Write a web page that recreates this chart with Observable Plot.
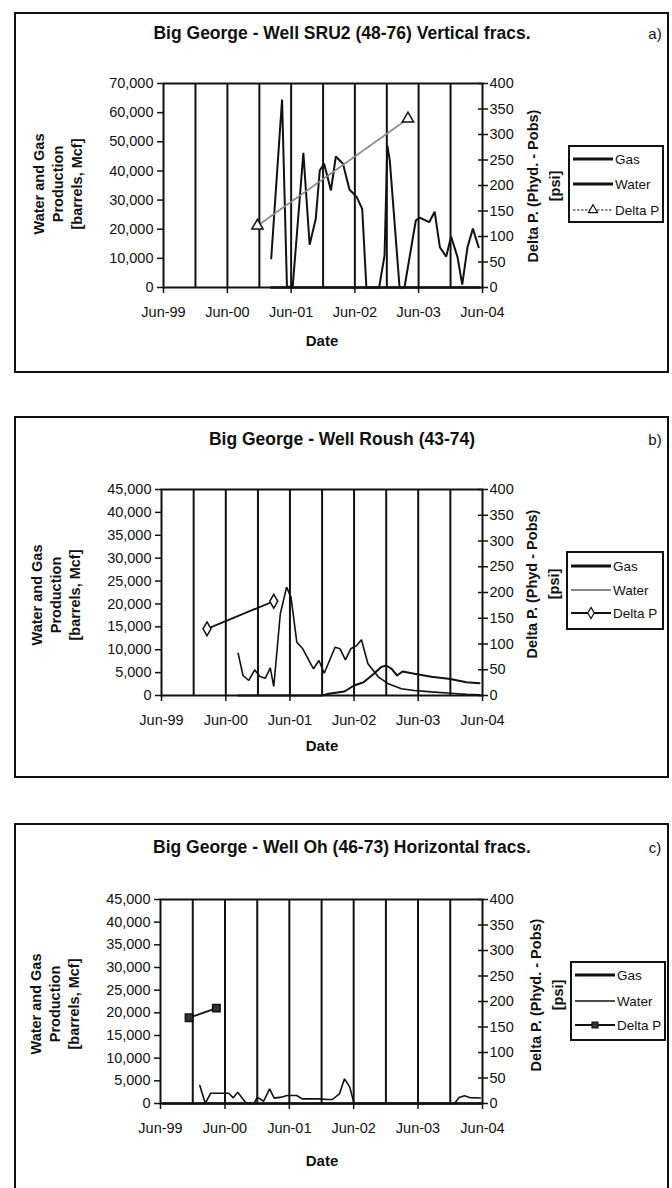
<!DOCTYPE html>
<html><head><meta charset="utf-8">
<script src="https://cdn.jsdelivr.net/npm/d3@7"></script>
<script src="https://cdn.jsdelivr.net/npm/@observablehq/plot@0.6"></script>
<style>
body{margin:0;background:#fff;}
#page{position:relative;width:672px;height:1188px;overflow:hidden;background:#fff;font-family:"Liberation Sans",Arial,sans-serif;color:#111;}
.frame{position:absolute;border:2px solid #111;box-sizing:border-box;}
.title{position:absolute;font-weight:bold;font-size:17.5px;white-space:nowrap;transform:translate(-50%,-50%);}
.tag{position:absolute;font-size:15px;white-space:nowrap;transform:translate(-50%,-50%);}
.vlab{position:absolute;font-weight:bold;font-size:14.5px;white-space:nowrap;text-align:center;line-height:19px;transform:translate(-50%,-50%) rotate(-90deg);}
.xlab{position:absolute;font-weight:bold;font-size:15px;white-space:nowrap;transform:translate(-50%,-50%);}
.legend{position:absolute;border:2px solid #111;box-sizing:border-box;background:#fff;overflow:hidden;}
.legend .row{position:absolute;left:0;height:16px;display:flex;align-items:center;font-size:13.5px;white-space:nowrap;}
.plotwrap{position:absolute;left:0;}
</style></head>
<body><div id="page"></div>
<script>
// ---------- shared axis values ----------
const xStart = "1999-06-01", xEnd = "2004-06-01";
const xTickDates = ["1999-06-01","2000-06-01","2001-06-01","2002-06-01","2003-06-01","2004-06-01"];
const gridDates = ["1999-12-01","2000-06-01","2000-12-01","2001-06-01","2001-12-01","2002-06-01","2002-12-01","2003-06-01","2003-12-01"];
const psiTicks = [0,50,100,150,200,250,300,350,400];
const leftTicksA = [0,10000,20000,30000,40000,50000,60000,70000];
const leftTicksB = [0,5000,10000,15000,20000,25000,30000,35000,40000,45000];
const leftTicksC = [0,5000,10000,15000,20000,25000,30000,35000,40000,45000];
const seriesNames = ["Gas","Water","Delta P"];
const titles = ["Big George - Well SRU2 (48-76) Vertical fracs.","Big George - Well Roush (43-74)","Big George - Well Oh (46-73) Horizontal fracs."];
const tags = ["a)","b)","c)"];
const rightLabels = ["Delta P. (Phyd. - Pobs)","Delta P. (Phyd - Pobs)","Delta P. (Phyd. - Pobs)"];

// ---------- panel a: SRU2 ----------
const waterA = [["2001-02-07",10000],["2001-04-10",64500],["2001-05-08",300],["2001-06-10",300],["2001-08-10",46200],["2001-09-15",14650],["2001-10-20",23570],["2001-11-12",40150],["2001-12-07",42440],["2002-01-15",33300],["2002-02-12",44950],["2002-03-25",42440],["2002-05-01",33630],["2002-06-12",31000],["2002-07-13",27000],["2002-08-06",0],["2002-10-18",0],["2002-11-18",11000],["2002-12-04",48700],["2002-12-18",43600],["2003-02-12",0],["2003-03-12",0],["2003-05-16",23000],["2003-06-07",24000],["2003-08-01",22400],["2003-09-01",26000],["2003-10-01",13800],["2003-11-06",10600],["2003-12-04",17500],["2004-01-10",10400],["2004-02-06",1000],["2004-03-07",13800],["2004-04-07",20200],["2004-05-10",13800]];
const gasA = [["2001-02-07",0],["2002-01-01",0],["2003-01-01",0],["2004-05-10",0]];
const deltaPA = [["2000-11-20",121],["2003-04-01",331]];

// ---------- panel b: Roush ----------
const waterB = [["2000-08-10",9240],["2000-09-07",4370],["2000-10-10",3280],["2000-11-12",5600],["2000-12-12",4150],["2001-01-12",3790],["2001-02-09",6050],["2001-03-01",1970],["2001-04-07",17800],["2001-05-13",23660],["2001-06-07",21500],["2001-07-10",11650],["2001-08-13",10200],["2001-10-13",5830],["2001-11-13",7650],["2001-12-13",4870],["2002-02-13",10550],["2002-03-13",10200],["2002-04-13",7800],["2002-05-13",10200],["2002-06-16",10900],["2002-07-13",12170],["2002-08-19",6920],["2002-10-19",4000],["2002-12-13",2550],["2003-02-25",1460],["2003-05-10",1090],["2003-08-15",800],["2003-12-01",500],["2004-03-01",250],["2004-05-15",150]];
const gasB = [["2000-08-10",0],["2001-12-01",0],["2002-01-07",370],["2002-04-07",870],["2002-06-01",2180],["2002-07-25",2900],["2002-09-22",4730],["2002-11-01",6190],["2002-12-01",6550],["2003-01-01",5830],["2003-02-01",4370],["2003-03-04",5250],["2003-05-10",4740],["2003-08-15",4100],["2003-12-01",3600],["2004-03-01",2900],["2004-05-15",2700]];
const deltaPB = [["2000-02-15",129.5],["2001-03-01",183]];

// ---------- panel c: Oh ----------
const waterC = [["2000-01-10",3970],["2000-02-10",50],["2000-03-12",2270],["2000-05-06",2270],["2000-06-22",2270],["2000-07-18",1250],["2000-08-12",2500],["2000-09-25",300],["2000-10-10",0],["2000-11-12",0],["2000-12-01",1400],["2001-01-06",500],["2001-02-09",3240],["2001-03-07",1180],["2001-04-18",1400],["2001-05-18",1760],["2001-07-13",1760],["2001-08-13",1030],["2001-11-16",1030],["2002-01-04",880],["2002-02-01",880],["2002-03-13",2200],["2002-04-10",5440],["2002-05-10",3600],["2002-06-01",300],["2002-06-10",0],["2003-12-25",0],["2004-01-20",1300],["2004-02-20",1700],["2004-03-20",1300],["2004-05-20",1200]];
const gasC = [["1999-06-15",0],["2000-06-01",0],["2002-06-01",0],["2004-05-20",0]];
const deltaPC = [["1999-11-10",168],["2000-04-13",187]];

const parse = d3.utcParse("%Y-%m-%d");
const toRows = arr => arr.map(([d, v]) => ({date: parse(d), value: v}));

const panels = [
  {ymax: 70000, leftTicks: leftTicksA, water: waterA, gas: gasA, dp: deltaPA, symbol: "triangle",
   left: 163, right: 482, plotTop: 83, plotBottom: 287, svgTop: 50, svgH: 290,
   frameTop: 12, frameH: 361, titleY: 33, leftLab: [58,184], rightLab: [544,186], dateY: 340,
   legend: {x: 568, y: 145, w: 96, h: 78, rows: [14, 39, 65]},
   waterW: 2, gasW: 2.5, legendWaterW: 3, dpStroke: "#8a8a8a", dpDash: "2.5,1.5", dpFill: "#fff"},
  {ymax: 45000, leftTicks: leftTicksB, water: waterB, gas: gasB, dp: deltaPB, symbol: "diamond",
   left: 161, right: 482, plotTop: 489, plotBottom: 695, svgTop: 456, svgH: 290,
   frameTop: 416, frameH: 362, titleY: 439, leftLab: [56,595], rightLab: [543,584], dateY: 745,
   legend: {x: 566, y: 551, w: 98, h: 79, rows: [15, 39, 62]},
   waterW: 1.6, gasW: 2, legendWaterW: 1.2, dpStroke: "#111", dpDash: null, dpFill: "#fff"},
  {ymax: 45000, leftTicks: leftTicksC, water: waterC, gas: gasC, dp: deltaPC, symbol: "square",
   left: 160, right: 482, plotTop: 899, plotBottom: 1103, svgTop: 866, svgH: 290,
   frameTop: 823, frameH: 400, titleY: 847, leftLab: [55,1004], rightLab: [547,995], dateY: 1160,
   legend: {x: 570, y: 961, w: 96, h: 80, rows: [14, 40, 64]},
   waterW: 1.6, gasW: 2.5, legendWaterW: 1.6, dpStroke: "#111", dpDash: null, dpFill: "#333"}
];

const page = document.getElementById("page");
function el(cls, html, style) {
  const d = document.createElement("div");
  d.className = cls; d.innerHTML = html; Object.assign(d.style, style); page.appendChild(d); return d;
}

panels.forEach((p, i) => {
  el("frame", "", {left: "14px", top: p.frameTop + "px", width: "655px", height: p.frameH + "px"});
  const k = p.ymax / 400;
  const fmt = d3.format(",");
  const chart = Plot.plot({
    width: 672, height: p.svgH,
    marginLeft: p.left, marginRight: 672 - p.right,
    marginTop: p.plotTop - p.svgTop, marginBottom: p.svgTop + p.svgH - p.plotBottom,
    style: {fontFamily: "'Liberation Sans', Arial, sans-serif", fontSize: "14.5px", color: "#111", background: "transparent", overflow: "visible"},
    x: {type: "utc", domain: [parse(xStart), parse(xEnd)]},
    y: {domain: [0, p.ymax]},
    marks: [
      Plot.ruleX(gridDates.map(parse), {stroke: "#111", strokeWidth: 2}),
      Plot.axisX(xTickDates.map(parse), {tickFormat: d3.utcFormat("%b-%y"), tickSize: 6, tickPadding: 13, label: null, strokeWidth: 1.5}),
      Plot.axisY(p.leftTicks, {anchor: "left", tickFormat: fmt, tickSize: 6, tickPadding: 4, label: null, strokeWidth: 1.5}),
      Plot.axisY(psiTicks.map(v => v * k), {anchor: "right", tickFormat: v => fmt(Math.round(v / k)), tickSize: 10, dx: -5, tickPadding: 2, label: null, strokeWidth: 1.5}),
      Plot.line(toRows(p.gas), {x: "date", y: "value", stroke: "#111", strokeWidth: p.gasW}),
      Plot.line(toRows(p.water), {x: "date", y: "value", stroke: "#111", strokeWidth: p.waterW, strokeLinejoin: "miter"}),
      Plot.line(toRows(p.dp), {x: "date", y: d => d.value * k, stroke: p.dpStroke, strokeWidth: 1.8, strokeDasharray: p.dpDash}),
      Plot.dot(toRows(p.dp), {x: "date", y: d => d.value * k, symbol: p.symbol, r: 4.2, fill: p.dpFill, stroke: "#111", strokeWidth: 1.5}),
      Plot.frame({stroke: "#111", strokeWidth: 2})
    ]
  });
  const wrap = el("plotwrap", "", {top: p.svgTop + "px"});
  wrap.appendChild(chart);

  el("title", titles[i], {left: "342px", top: p.titleY + "px"});
  el("tag", tags[i], {left: "655px", top: p.titleY + "px"});
  el("vlab", "Water and Gas<br>Production<br>[barrels, Mcf]", {left: p.leftLab[0] + "px", top: p.leftLab[1] + "px"});
  el("vlab", rightLabels[i] + "<br>[psi]", {left: p.rightLab[0] + "px", top: p.rightLab[1] + "px", lineHeight: "22px"});
  el("xlab", "Date", {left: "322px", top: p.dateY + "px"});

  // legend
  const L = p.legend;
  const lg = el("legend", "", {left: L.x + "px", top: L.y + "px", width: L.w + "px", height: L.h + "px"});
  const styles = [
    {w: 3, stroke: "#111", dash: null, sym: null},
    {w: p.legendWaterW, stroke: "#111", dash: null, sym: null},
    {w: 1.8, stroke: p.dpStroke, dash: p.dpDash, sym: p.symbol}
  ];
  const symMap = {triangle: d3.symbolTriangle, diamond: d3.symbolDiamond, square: d3.symbolSquare};
  seriesNames.forEach((name, j) => {
    const s = styles[j];
    const row = document.createElement("div");
    row.className = "row";
    row.style.top = (L.rows[j] - 8 - 2) + "px";
    const ns = "http://www.w3.org/2000/svg";
    const sv = document.createElementNS(ns, "svg");
    sv.setAttribute("width", 44); sv.setAttribute("height", 16);
    const ln = document.createElementNS(ns, "line");
    ln.setAttribute("x1", 3); ln.setAttribute("x2", 43); ln.setAttribute("y1", 8); ln.setAttribute("y2", 8);
    ln.setAttribute("stroke", s.stroke); ln.setAttribute("stroke-width", s.w);
    if (s.dash) ln.setAttribute("stroke-dasharray", s.dash);
    sv.appendChild(ln);
    if (s.sym) {
      const pth = document.createElementNS(ns, "path");
      pth.setAttribute("d", d3.symbol(symMap[s.sym], 36)());
      pth.setAttribute("transform", "translate(23,8)");
      pth.setAttribute("fill", p.dpFill); pth.setAttribute("stroke", "#111"); pth.setAttribute("stroke-width", 1.2);
      sv.appendChild(pth);
    }
    row.appendChild(sv);
    const tx = document.createElement("span");
    tx.textContent = name; tx.style.marginLeft = "1px";
    row.appendChild(tx);
    lg.appendChild(row);
  });
});
</script></body></html>
